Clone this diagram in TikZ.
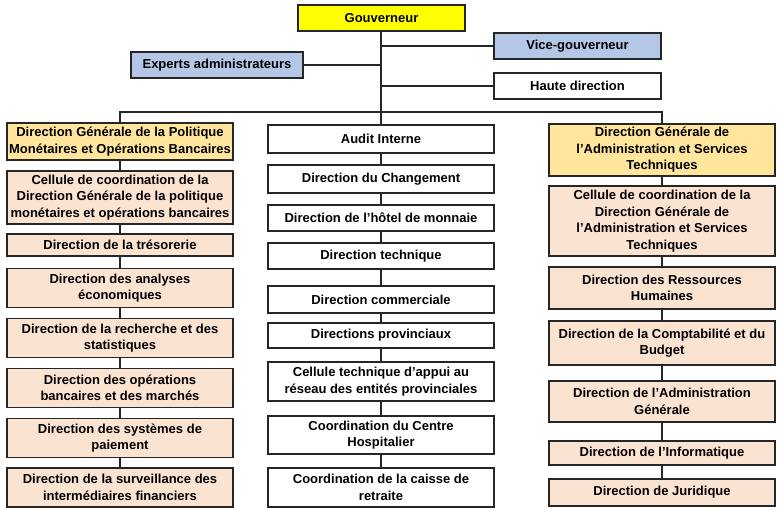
\documentclass[tikz,border=0pt]{standalone}
\usepackage{fontspec}
\setmainfont{Liberation Sans}
\definecolor{gyellow}{HTML}{FFFF00}
\definecolor{gblue}{HTML}{B4C7E7}
\definecolor{dgyellow}{HTML}{FFE69C}
\definecolor{peach}{HTML}{FBE3D2}
\definecolor{edge}{HTML}{262626}
\tikzset{
  box/.style={draw=edge, line width=1.7pt, inner sep=0pt, align=center,
    font=\fontsize{13}{16.5}\selectfont\bfseries, anchor=center},
  colw/.style={minimum width=226pt},
  conn/.style={draw=edge, line width=2pt},
}
\begin{document}
\begin{tikzpicture}[x=1pt,y=-1pt]
\useasboundingbox (0,0) rectangle (780,510);
% top
\node[box, fill=gyellow, minimum width=167pt, minimum height=26pt] (gouv) at (381.5,18) {Gouverneur};
\node[box, fill=gblue, minimum width=167pt, minimum height=26pt] (vice) at (577.5,46) {Vice-gouverneur};
\node[box, fill=gblue, minimum width=172pt, minimum height=26pt] (exp) at (217,65) {Experts administrateurs};
\node[box, fill=white, minimum width=167pt, minimum height=26pt] (haute) at (577.5,86) {Haute direction};
% left column
\node[box, colw, fill=dgyellow, minimum height=37pt] (dgl) at (120,141.5) {Direction Générale de la Politique\\Monétaires et Opérations Bancaires};
\node[box, colw, fill=peach, minimum height=53pt] (l1) at (120,197.5) {Cellule de coordination de la\\Direction Générale de la politique\\monétaires et opérations bancaires};
\node[box, colw, fill=peach, minimum height=22pt] (l2) at (120,245) {Direction de la trésorerie};
\node[box, colw, fill=peach, minimum height=39pt] (l3) at (120,288) {Direction des analyses\\économiques};
\node[box, colw, fill=peach, minimum height=39pt] (l4) at (120,338) {Direction de la recherche et des\\statistiques};
\node[box, colw, fill=peach, minimum height=39pt] (l5) at (120,388) {Direction des opérations\\bancaires et des marchés};
\node[box, colw, fill=peach, minimum height=39pt] (l6) at (120,438) {Direction des systèmes de\\paiement};
\node[box, colw, fill=peach, minimum height=39pt] (l7) at (120,487.5) {Direction de la surveillance des\\intermédiaires financiers};
% middle column
\node[box, colw, fill=white, minimum height=28pt] (m1) at (381,139) {Audit Interne};
\node[box, colw, fill=white, minimum height=28pt] (m2) at (381,179) {Direction du Changement};
\node[box, colw, fill=white, minimum height=26pt] (m3) at (381,218) {Direction de l’hôtel de monnaie};
\node[box, colw, fill=white, minimum height=26pt] (m4) at (381,256) {Direction technique};
\node[box, colw, fill=white, minimum height=27pt] (m5) at (381,299.5) {Direction commerciale};
\node[box, colw, fill=white, minimum height=25pt] (m6) at (381,335.5) {Directions provinciaux};
\node[box, colw, fill=white, minimum height=39pt] (m7) at (381,381.5) {Cellule technique d’appui au\\réseau des entités provinciales};
\node[box, colw, fill=white, minimum height=38pt] (m8) at (381,435) {Coordination du Centre\\Hospitalier};
\node[box, colw, fill=white, minimum height=39pt] (m9) at (381,487.5) {Coordination de la caisse de\\retraite};
% right column
\node[box, colw, fill=dgyellow, minimum height=52pt] (dgr) at (662,150) {Direction Générale de\\l'Administration et Services\\Techniques};
\node[box, colw, fill=peach, minimum height=70pt] (r1) at (662,221) {Cellule de coordination de la\\Direction Générale de\\l'Administration et Services\\Techniques};
\node[box, colw, fill=peach, minimum height=42pt] (r2) at (662,288) {Direction des Ressources\\Humaines};
\node[box, colw, fill=peach, minimum height=44pt] (r3) at (662,343) {Direction de la Comptabilité et du\\Budget};
\node[box, colw, fill=peach, minimum height=41pt] (r4) at (662,401.5) {Direction de l’Administration\\Générale};
\node[box, colw, fill=peach, minimum height=24pt] (r5) at (662,453) {Direction de l’Informatique};
\node[box, colw, fill=peach, minimum height=27pt] (r6) at (662,492.5) {Direction de Juridique};
% connectors
\draw[conn] (gouv.south -| m1.north) -- (m1.north);
\draw[conn] (vice.west) -- (vice.west -| m1.north);
\draw[conn] (exp.east) -- (exp.east -| m1.north);
\draw[conn] (haute.west) -- (haute.west -| m1.north);
\draw[conn] (dgl.north) -- ++(0,-10) coordinate (bl) -| (dgr.north);
\draw[conn] (dgl) -- (l1) -- (l2) -- (l3) -- (l4) -- (l5) -- (l6) -- (l7);
\draw[conn] (m1) -- (m2) -- (m3) -- (m4) -- (m5) -- (m6) -- (m7) -- (m8) -- (m9);
\draw[conn] (dgr) -- (r1) -- (r2) -- (r3) -- (r4) -- (r5) -- (r6);
\end{tikzpicture}
\end{document}
